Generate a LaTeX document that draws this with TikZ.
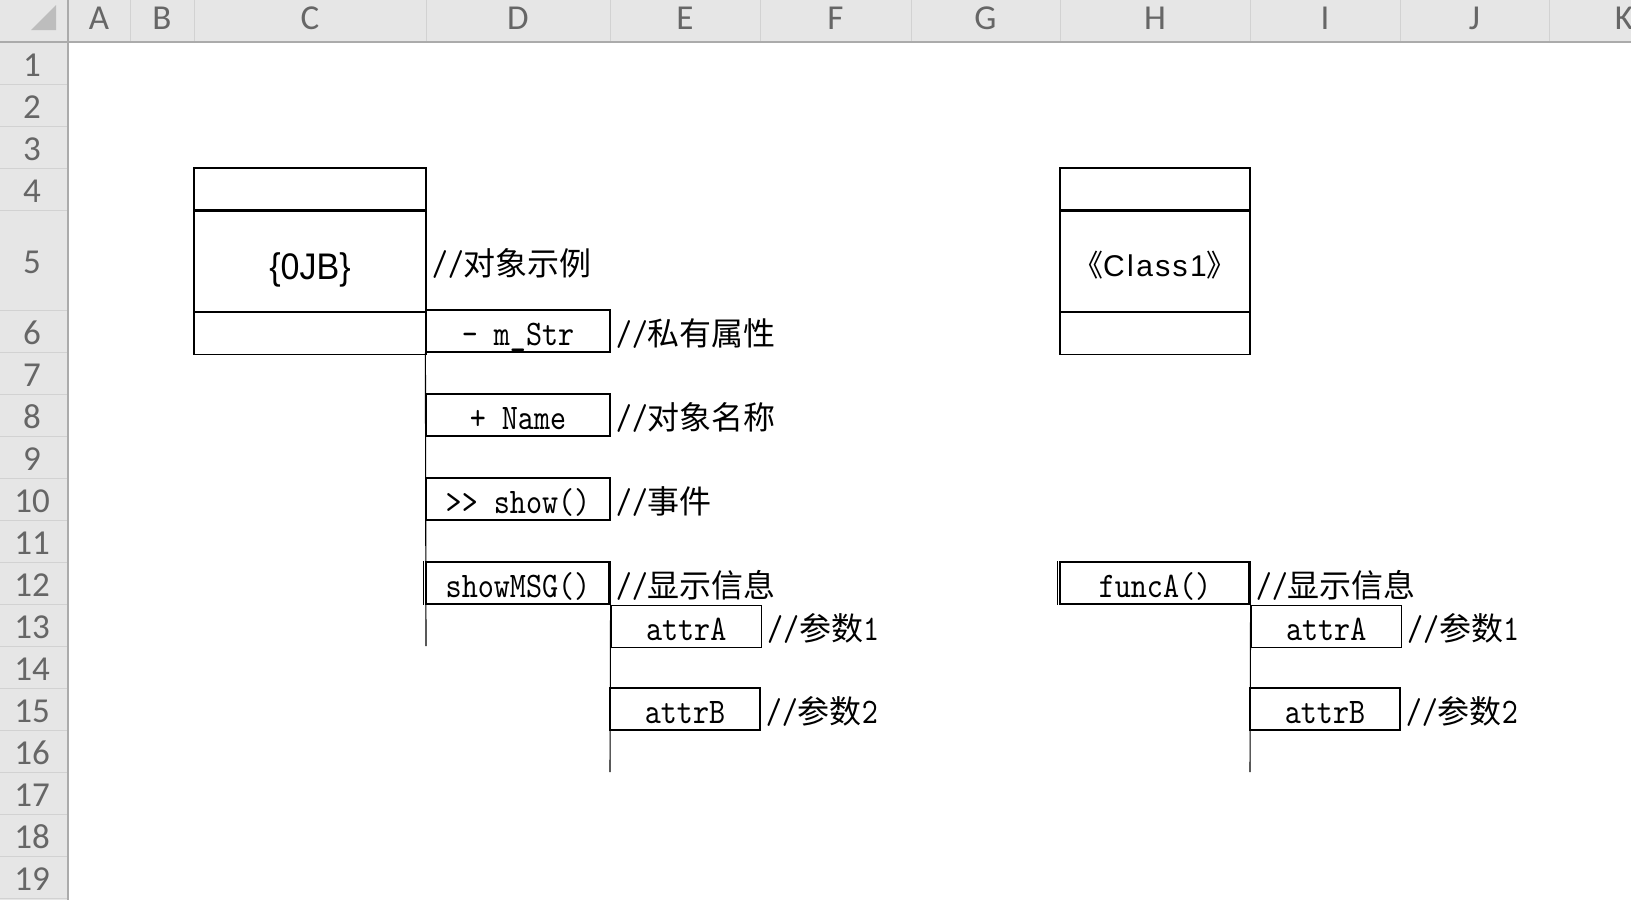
\documentclass[tikz,border=0pt]{standalone}
\usepackage{fontspec}
\usepackage{tikz}
\usetikzlibrary{positioning}

\newfontfamily\cjk{Noto Sans CJK SC}
\newfontfamily\hdrfont{Carlito}
\newfontfamily\objfont[FakeStretch=0.92]{Liberation Sans}
\newfontfamily\clsfont[LetterSpace=8]{Liberation Sans}
\newfontfamily\codefont[FakeStretch=0.85]{lmmono10-regular.otf}
\newcommand{\zhtext}[1]{{\cjk\fontsize{32}{32}\selectfont #1}}

\definecolor{hdrfill}{HTML}{E6E6E6}
\definecolor{hdrline}{HTML}{D2D2D2}
\definecolor{hdredge}{HTML}{ABABAB}
\definecolor{hdrtext}{HTML}{666666}
\definecolor{corner}{HTML}{BDBDBD}

\tikzset{
    cell/.style={draw, line width=1.2pt, inner sep=0pt, minimum height=42pt,
        text height=29pt, text depth=0pt,
        font=\codefont\fontsize{36}{36}\selectfont},
    note/.style={inner sep=0pt, text height=29pt, text depth=0pt,
        font=\codefont\fontsize{36}{36}\selectfont},
    life/.style={draw, line width=1.1pt},
    colhead/.style={anchor=base, text=hdrtext, font=\hdrfont\fontsize{35}{35}\selectfont},
    rowhead/.style={colhead}
}

\begin{document}
\begin{tikzpicture}[x=1pt, y=-1pt, every node/.style={inner sep=0pt}]
    \useasboundingbox (0,0) rectangle (1631,900);
    \clip (0,0) rectangle (1631,900);

    % sheet headers
    \fill[hdrfill] (0,0) rectangle (1631,42);
    \fill[hdrfill] (0,0) rectangle (68,900);
    \foreach \x in {130,194,426,610,760,911,1060,1250,1400,1549}
        \draw[hdrline, line width=1pt] (\x,0) -- (\x,42);
    \foreach \y in {84,126,168,210,310,352,394,436,478,520,562,604,646,688,730,772,814,856,898}
        \draw[hdrline, line width=1pt] (0,\y) -- (68,\y);
    \draw[hdredge, line width=1.5pt] (0,42) -- (1631,42) (68,0) -- (68,900);
    \fill[corner] (31,30) -- (56,30) -- (56,5) -- cycle;
    \foreach \l/\x in {A/99, B/162, C/310, D/518, E/685, F/835.5, G/985.5, H/1155, I/1325, J/1474.5, K/1624}
        \node[colhead] at (\x,29) {\l};
    \foreach \n/\y in {1/63, 2/105, 3/147, 4/189, 5/260, 6/331, 7/373, 8/415, 9/457, 10/499,
                       11/541, 12/583, 13/625, 14/667, 15/709, 16/751, 17/793, 18/835, 19/877}
        \node[rowhead] at (32,\y+13) {\n};

    % object box
    \node[cell, minimum width=232pt] (objtop) at (310,189) {};
    \node[cell, minimum width=232pt, minimum height=100pt, text height=36pt,
        font=\objfont\fontsize{37}{37}\selectfont, below=0pt of objtop] (objmid) {\{0JB\}};
    \node[cell, minimum width=232pt, below=0pt of objmid] (objbot) {};
    \node[note, right=5pt of objmid] (objnote) {//\zhtext{对象示例}};

    % members
    \node[cell, minimum width=184pt] (mstr) at (518,331) {- m\_Str};
    \node[cell, minimum width=184pt] (name) at (518,415) {+ Name};
    \node[cell, minimum width=184pt] (show) at (518,499) {>{}> show()};
    \node[cell, minimum width=184pt] (msg) at (518,583) {showMSG()};
    \node[cell, minimum width=150pt, below right=0pt and 0pt of msg] (attra) {attrA};
    \node[cell, minimum width=150pt] (attrb) at (685,709) {attrB};
    \node[note, right=5pt of mstr] (mstrnote) {//\zhtext{私有属性}};
    \node[note, right=5pt of name] (namenote) {//\zhtext{对象名称}};
    \node[note, right=5pt of show] (shownote) {//\zhtext{事件}};
    \node[note, right=5pt of msg] (msgnote) {//\zhtext{显示信息}};
    \node[note, right=5pt of attra] (attranote) {//\zhtext{参数}1};
    \node[note, right=5pt of attrb] (attrbnote) {//\zhtext{参数}2};

    % class box
    \node[cell, minimum width=190pt] (clstop) at (1155,189) {};
    \node[cell, minimum width=190pt, minimum height=100pt, text height=30pt,
        font=\clsfont\fontsize{30}{30}\selectfont, below=0pt of clstop] (clsmid)
        {{\cjk 《}Class1{\cjk 》}};
    \node[cell, minimum width=190pt, below=0pt of clsmid] (clsbot) {};

    \node[cell, minimum width=190pt] (func) at (1155,583) {funcA()};
    \node[cell, minimum width=150pt, below right=0pt and 0pt of func] (attrc) {attrA};
    \node[cell, minimum width=150pt] (attrd) at (1325,709) {attrB};
    \node[note, right=5pt of func] (funcnote) {//\zhtext{显示信息}};
    \node[note, right=5pt of attrc] (attrcnote) {//\zhtext{参数}1};
    \node[note, right=5pt of attrd] (attrdnote) {//\zhtext{参数}2};

    % doubled sides of the call cells
    \foreach \b in {msg, func}
        \draw[line width=0.8pt] ([xshift=-1.8pt]\b.north west) -- ([xshift=-1.8pt]\b.south west)
            ([xshift=-1.8pt]\b.north east) -- ([xshift=-1.8pt]\b.south east);

    % life lines
    \coordinate (lifeD) at (426,646);
    \coordinate (lifeE) at (610,772);
    \coordinate (lifeI) at (1250,772);
    \draw[life] (mstr.south west) -- (lifeD);
    \draw[life] (msg.south east) -- (lifeE);
    \draw[life] (func.south east) -- (lifeI);
\end{tikzpicture}
\end{document}
